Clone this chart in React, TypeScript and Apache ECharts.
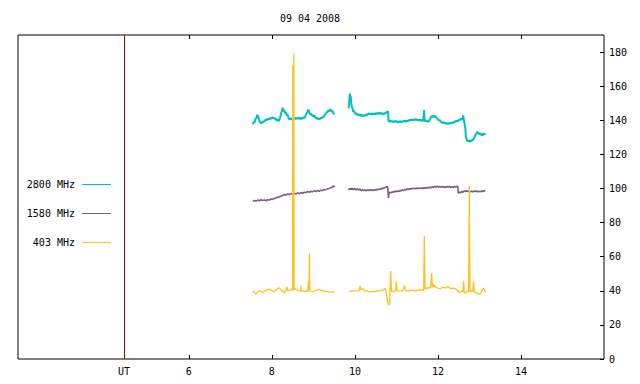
import React, { useEffect, useRef } from "react";
import * as echarts from "echarts";

const TITLE = "09 04 2008";
const UT_MARK = 4.436;
const X_MIN = 1.885;
const X_MAX = 16.0;
const Y_MIN = 0;
const Y_MAX = 190;
const X_TICKS = [6, 8, 10, 12, 14];
const X_LABELS = [UT_MARK, 6, 8, 10, 12, 14];
const Y_TICKS = [0, 20, 40, 60, 80, 100, 120, 140, 160, 180];
const LEGEND_NAMES = ["2800 MHz", "1580 MHz", "403 MHz"];
const COLORS = ["#00c0c0", "#7b5e80", "#ffc020"];

// 2800 MHz
const cyanA: number[][] = [
  [7.54, 137.8], [7.56, 139.0], [7.58, 138.6], [7.6, 140.5], [7.62, 141.2], [7.64, 142.6], [7.66, 143.0],
  [7.68, 141.2], [7.7, 139.6], [7.72, 138.8], [7.74, 138.2], [7.76, 138.9], [7.78, 138.5], [7.8, 139.6],
  [7.82, 139.2], [7.84, 140.4], [7.86, 139.8], [7.88, 140.9], [7.9, 140.2], [7.92, 141.0], [7.94, 140.3],
  [7.96, 141.6], [7.98, 140.7], [8.0, 141.9], [8.02, 141.0], [8.04, 141.8], [8.06, 140.6], [8.08, 141.4],
  [8.1, 140.4], [8.12, 139.9], [8.14, 140.6], [8.16, 139.4], [8.18, 140.2], [8.2, 141.8], [8.22, 143.5],
  [8.24, 145.4], [8.26, 147.3], [8.28, 145.2], [8.3, 146.0], [8.32, 144.0], [8.34, 144.6], [8.36, 142.8],
  [8.38, 143.2], [8.4, 141.6], [8.42, 140.4], [8.44, 141.2], [8.46, 140.2], [8.48, 141.3], [8.5, 140.5],
  [8.52, 141.6], [8.54, 140.8], [8.56, 141.7], [8.58, 140.6], [8.6, 141.5], [8.62, 140.9], [8.64, 141.8],
  [8.66, 140.7], [8.68, 141.4], [8.7, 140.6], [8.72, 141.5], [8.74, 140.8], [8.76, 142.0], [8.78, 141.2],
  [8.8, 142.2], [8.82, 143.0], [8.84, 144.2], [8.86, 145.0], [8.88, 146.2], [8.9, 144.8], [8.92, 143.4],
  [8.94, 144.0], [8.96, 142.6], [8.98, 143.2], [9.0, 142.2], [9.02, 142.8], [9.04, 141.8], [9.06, 141.0],
  [9.08, 141.6], [9.1, 140.6], [9.12, 141.2], [9.14, 140.5], [9.16, 140.9], [9.18, 141.5], [9.2, 141.0],
  [9.22, 142.0], [9.24, 141.6], [9.26, 142.8], [9.28, 143.2], [9.3, 144.0], [9.32, 144.6], [9.34, 145.0],
  [9.36, 145.8], [9.38, 145.2], [9.4, 146.4], [9.42, 146.0], [9.44, 145.0], [9.46, 145.6], [9.48, 144.2],
  [9.5, 143.4],
];
const cyanB: number[][] = [
  [9.85, 147.0], [9.86, 150.0], [9.87, 153.5], [9.88, 155.6], [9.89, 153.0], [9.9, 154.0], [9.91, 150.5],
  [9.92, 148.4], [9.94, 147.0], [9.96, 145.0], [9.98, 145.6], [10.0, 143.8], [10.02, 144.4], [10.04, 143.2],
  [10.06, 143.9], [10.08, 142.8], [10.1, 143.6], [10.12, 142.6], [10.14, 143.4], [10.16, 142.4], [10.18, 143.2],
  [10.2, 142.2], [10.22, 143.0], [10.24, 142.4], [10.26, 143.4], [10.28, 142.8], [10.3, 143.8], [10.32, 143.2],
  [10.34, 144.2], [10.36, 143.4], [10.38, 144.0], [10.4, 143.2], [10.42, 144.2], [10.44, 143.4], [10.46, 144.0],
  [10.48, 143.2], [10.5, 144.4], [10.52, 143.6], [10.54, 144.2], [10.56, 143.8], [10.58, 144.6], [10.6, 143.6],
  [10.62, 144.4], [10.64, 143.8], [10.66, 144.2], [10.68, 143.4], [10.7, 144.0], [10.72, 143.8], [10.74, 144.6],
  [10.76, 144.4], [10.78, 145.2], [10.8, 144.8], [10.81, 139.6], [10.83, 139.0], [10.85, 140.0], [10.87, 139.2],
  [10.89, 139.8], [10.91, 138.8], [10.93, 139.6], [10.95, 138.8], [10.97, 139.8], [10.99, 139.0], [11.01, 139.6],
  [11.03, 138.6], [11.05, 139.4], [11.07, 138.8], [11.09, 139.6], [11.11, 138.8], [11.13, 139.4], [11.15, 139.0],
  [11.17, 139.8], [11.19, 139.2], [11.21, 140.0], [11.23, 139.0], [11.25, 139.8], [11.27, 139.2], [11.29, 140.2],
  [11.31, 139.6], [11.33, 140.4], [11.35, 139.8], [11.37, 140.6], [11.39, 139.8], [11.41, 140.6], [11.43, 140.0],
  [11.45, 140.8], [11.47, 140.2], [11.49, 140.6], [11.51, 139.8], [11.53, 140.4], [11.55, 139.8], [11.57, 140.4],
  [11.59, 139.8], [11.61, 140.2], [11.63, 139.6], [11.65, 140.0], [11.665, 146.0], [11.68, 139.8], [11.7, 139.4],
  [11.72, 140.0], [11.74, 139.2], [11.76, 139.6], [11.78, 139.0], [11.8, 140.4], [11.82, 141.2], [11.84, 142.0],
  [11.86, 142.6], [11.88, 141.8], [11.9, 142.8], [11.92, 142.0], [11.94, 142.6], [11.96, 141.6], [11.98, 141.0],
  [12.0, 140.6], [12.02, 139.8], [12.04, 140.4], [12.06, 139.4], [12.08, 139.0], [12.1, 138.4], [12.12, 139.0],
  [12.14, 138.2], [12.16, 138.8], [12.18, 138.0], [12.2, 138.6], [12.22, 137.8], [12.24, 138.4], [12.26, 137.8],
  [12.28, 138.6], [12.3, 138.0], [12.32, 138.8], [12.34, 138.2], [12.36, 139.0], [12.38, 138.4], [12.4, 139.4],
  [12.42, 139.0], [12.44, 139.8], [12.46, 139.2], [12.48, 140.0], [12.5, 139.6], [12.52, 140.6], [12.54, 140.2],
  [12.56, 141.0], [12.58, 140.4], [12.6, 141.6], [12.61, 142.8], [12.62, 140.6], [12.64, 138.0], [12.66, 135.5],
  [12.67, 131.5], [12.68, 129.8], [12.7, 128.4], [12.72, 127.6], [12.74, 128.2], [12.76, 127.4], [12.78, 128.0],
  [12.8, 127.6], [12.82, 128.6], [12.84, 128.2], [12.86, 129.4], [12.88, 130.2], [12.9, 131.0], [12.92, 132.0],
  [12.94, 132.8], [12.96, 133.0], [12.98, 131.8], [13.0, 132.6], [13.02, 131.4], [13.04, 132.2], [13.06, 131.0],
  [13.08, 132.4], [13.1, 131.4], [13.12, 132.2], [13.14, 131.6],
];

// 1580 MHz
const purpleA: number[][] = [
  [7.54, 92.4], [7.58, 93.0], [7.62, 92.6], [7.66, 93.2], [7.7, 92.8], [7.74, 93.4], [7.78, 92.9], [7.82, 93.3],
  [7.86, 92.8], [7.9, 93.4], [7.94, 93.2], [7.98, 93.8], [8.02, 93.6], [8.06, 94.2], [8.1, 94.4], [8.14, 94.9],
  [8.18, 95.0], [8.22, 95.6], [8.26, 95.8], [8.3, 96.4], [8.34, 96.2], [8.38, 96.8], [8.42, 96.4], [8.46, 97.0],
  [8.5, 96.6], [8.54, 97.2], [8.58, 96.8], [8.62, 97.4], [8.66, 97.0], [8.7, 97.6], [8.74, 97.2], [8.78, 97.8],
  [8.82, 97.6], [8.86, 98.2], [8.9, 97.8], [8.94, 98.4], [8.98, 98.0], [9.02, 98.6], [9.06, 98.2], [9.1, 98.8],
  [9.14, 98.4], [9.18, 99.0], [9.22, 98.8], [9.26, 99.4], [9.3, 99.2], [9.34, 99.8], [9.38, 100.0], [9.42, 100.4],
  [9.46, 100.8], [9.48, 101.4], [9.5, 101.0], [9.507, 101.8],
];
const purpleB: number[][] = [
  [9.85, 99.0], [9.87, 100.0], [9.89, 99.4], [9.91, 100.2], [9.93, 99.2], [9.95, 100.0], [9.97, 99.4], [10.0, 100.0],
  [10.03, 99.2], [10.06, 99.8], [10.09, 99.0], [10.12, 99.6], [10.15, 98.8], [10.18, 99.4], [10.21, 98.8], [10.24, 99.2],
  [10.27, 98.6], [10.3, 99.2], [10.33, 98.8], [10.36, 99.4], [10.39, 98.8], [10.42, 99.4], [10.45, 98.8], [10.48, 99.4],
  [10.51, 99.0], [10.54, 99.6], [10.57, 99.2], [10.6, 99.8], [10.63, 99.6], [10.66, 100.2], [10.69, 100.0], [10.72, 100.6],
  [10.75, 100.6], [10.77, 101.2], [10.79, 100.8], [10.8, 97.5], [10.81, 94.5], [10.82, 97.2], [10.84, 97.8], [10.87, 97.4],
  [10.9, 98.0], [10.93, 97.8], [10.96, 98.4], [10.99, 98.0], [11.02, 98.6], [11.05, 98.2], [11.08, 98.8], [11.11, 98.6],
  [11.14, 99.2], [11.17, 98.8], [11.2, 99.4], [11.23, 99.2], [11.26, 99.8], [11.29, 99.4], [11.32, 99.9], [11.35, 99.6],
  [11.38, 100.2], [11.41, 99.8], [11.44, 100.2], [11.47, 99.8], [11.5, 100.4], [11.53, 99.9], [11.56, 100.3], [11.59, 99.9],
  [11.62, 100.4], [11.65, 100.0], [11.68, 100.4], [11.71, 100.0], [11.74, 100.6], [11.77, 100.2], [11.8, 100.8], [11.83, 100.4],
  [11.86, 101.0], [11.89, 100.6], [11.92, 101.2], [11.95, 100.8], [11.98, 101.4], [12.01, 100.8], [12.04, 101.2], [12.07, 100.8],
  [12.1, 101.2], [12.13, 100.6], [12.16, 101.0], [12.19, 100.6], [12.22, 101.2], [12.25, 100.8], [12.28, 101.2], [12.31, 100.6],
  [12.34, 101.0], [12.37, 100.6], [12.4, 101.2], [12.43, 100.8], [12.46, 101.4], [12.48, 101.0], [12.49, 97.2], [12.51, 97.8],
  [12.54, 97.4], [12.57, 98.2], [12.6, 97.8], [12.63, 98.6], [12.66, 98.2], [12.69, 98.8], [12.72, 98.2], [12.75, 98.6],
  [12.78, 98.0], [12.81, 98.4], [12.84, 98.0], [12.87, 98.6], [12.9, 98.2], [12.93, 98.6], [12.96, 98.0], [12.99, 98.4],
  [13.02, 98.0], [13.05, 98.6], [13.08, 98.2], [13.11, 98.8], [13.14, 98.4],
];

// 403 MHz
const orangeA: number[][] = [
  [7.54, 40.0], [7.58, 39.0], [7.62, 38.0], [7.66, 39.4], [7.7, 40.0], [7.74, 39.6], [7.78, 39.0], [7.82, 39.8],
  [7.86, 40.0], [7.9, 40.8], [7.94, 41.0], [7.98, 40.4], [8.02, 40.0], [8.06, 39.4], [8.1, 40.4], [8.14, 41.2],
  [8.17, 41.8], [8.2, 41.0], [8.25, 39.8], [8.3, 39.0], [8.34, 40.0], [8.36, 42.5], [8.375, 40.4], [8.41, 40.0],
  [8.44, 40.6], [8.46, 40.4], [8.49, 41.2], [8.5, 40.2], [8.505, 172.4], [8.51, 40.6], [8.525, 40.4], [8.53, 179.3],
  [8.535, 40.6], [8.55, 41.0], [8.57, 41.2], [8.6, 40.6], [8.65, 40.0], [8.695, 39.8], [8.7, 43.0], [8.705, 40.0],
  [8.745, 40.0], [8.785, 39.6], [8.825, 39.8], [8.865, 39.6], [8.88, 45.3], [8.897, 40.0], [8.905, 62.1], [8.913, 40.0],
  [8.945, 39.8], [8.985, 39.6], [9.025, 39.8], [9.065, 40.2], [9.105, 40.6], [9.145, 40.8], [9.185, 40.4], [9.225, 40.0],
  [9.265, 39.6], [9.306, 39.6], [9.345, 39.4], [9.386, 39.4], [9.45, 39.2], [9.507, 39.2],
];
const orangeB: number[][] = [
  [9.851, 39.6], [9.907, 39.8], [9.948, 39.8], [9.988, 40.0], [10.03, 40.0], [10.068, 40.0], [10.108, 40.2], [10.124, 42.9],
  [10.14, 40.4], [10.172, 41.0], [10.204, 41.4], [10.22, 40.2], [10.268, 40.0], [10.31, 39.6], [10.349, 39.4], [10.43, 39.4],
  [10.51, 39.8], [10.59, 40.0], [10.654, 40.4], [10.686, 40.6], [10.718, 41.4], [10.75, 40.0], [10.774, 36.0], [10.79, 33.5],
  [10.814, 31.6], [10.838, 32.0], [10.846, 39.0], [10.862, 51.6], [10.878, 40.0], [10.894, 39.6], [10.95, 39.8], [10.983, 40.0],
  [10.999, 45.5], [11.015, 40.0], [11.07, 40.0], [11.15, 40.0], [11.2, 43.1], [11.215, 40.2], [11.27, 40.0], [11.31, 40.0],
  [11.35, 40.2], [11.39, 40.4], [11.43, 40.0], [11.47, 40.0], [11.51, 40.4], [11.55, 40.6], [11.59, 40.4], [11.63, 40.6],
  [11.657, 40.4], [11.673, 72.2], [11.689, 41.0], [11.71, 41.4], [11.737, 42.0], [11.76, 41.2], [11.79, 42.2], [11.825, 41.6],
  [11.849, 50.4], [11.865, 42.4], [11.873, 44.9], [11.89, 42.0], [11.913, 43.4], [11.953, 42.0], [11.993, 41.6], [12.033, 41.4],
  [12.074, 41.4], [12.114, 42.0], [12.154, 42.0], [12.194, 41.6], [12.234, 42.6], [12.274, 41.8], [12.314, 41.4], [12.354, 41.6],
  [12.394, 41.4], [12.434, 41.0], [12.475, 40.0], [12.515, 39.0], [12.555, 39.4], [12.58, 40.0], [12.603, 39.4], [12.62, 45.9],
  [12.635, 39.2], [12.66, 38.6], [12.69, 39.4], [12.715, 39.8], [12.74, 39.4], [12.756, 101.6], [12.772, 39.6], [12.796, 39.8],
  [12.836, 39.4], [12.86, 45.5], [12.876, 39.6], [12.9, 39.0], [12.932, 38.6], [12.956, 38.6], [12.996, 38.0], [13.03, 38.6],
  [13.06, 40.0], [13.085, 41.0], [13.1, 41.4], [13.125, 40.2], [13.14, 39.0],
];

const FONT = "DejaVu Sans Mono";

export default function App() {
  const ref = useRef<HTMLDivElement>(null);
  useEffect(() => {
    if (!ref.current) return;
    const chart = echarts.init(ref.current, undefined, { renderer: "svg" });
    const lineSeries = (data: number[][], color: string, width: number, extra: any = {}) => ({
      type: "line",
      data,
      showSymbol: false,
      symbol: "none",
      lineStyle: { color, width },
      itemStyle: { color },
      silent: true,
      ...extra,
    });
    const legendY = [184, 213, 242];
    const graphics: any[] = [
      {
        type: "text",
        x: 310,
        y: 18,
        style: { text: TITLE, fontFamily: FONT, fontSize: 10, fill: "#000", align: "center", verticalAlign: "middle" },
      },
    ];
    LEGEND_NAMES.forEach((name, i) => {
      graphics.push({
        type: "text",
        x: 75,
        y: legendY[i],
        style: { text: name, fontFamily: FONT, fontSize: 10, fill: "#000", align: "right", verticalAlign: "middle" },
      });
      graphics.push({
        type: "line",
        shape: { x1: 82, y1: legendY[i] + 0.5, x2: 111, y2: legendY[i] + 0.5 },
        style: { stroke: COLORS[i], lineWidth: 1 },
      });
    });
    chart.setOption({
      animation: false,
      backgroundColor: "#fff",
      grid: { left: 18, right: 36, top: 35, bottom: 25, show: true, borderColor: "#000", borderWidth: 1, backgroundColor: "transparent" },
      xAxis: [
        {
          type: "value",
          min: X_MIN,
          max: X_MAX,
          position: "bottom",
          axisLine: { show: false },
          splitLine: { show: false },
          axisTick: { show: true, inside: true, length: 4, lineStyle: { color: "#000" }, customValues: X_TICKS },
          axisLabel: {
            show: true,
            customValues: X_LABELS,
            margin: 7,
            fontFamily: FONT,
            fontSize: 10,
            color: "#000",
            formatter: (v: number) => (Math.abs(v - UT_MARK) < 0.01 ? "UT" : String(v)),
          },
        },
        {
          type: "value",
          min: X_MIN,
          max: X_MAX,
          position: "top",
          axisLine: { show: false },
          splitLine: { show: false },
          axisTick: { show: true, inside: true, length: 4, lineStyle: { color: "#000" }, customValues: X_TICKS },
          axisLabel: { show: false },
        },
      ],
      yAxis: {
        type: "value",
        min: Y_MIN,
        max: Y_MAX,
        position: "right",
        axisLine: { show: false },
        splitLine: { show: false },
        axisTick: { show: true, inside: true, length: 4, lineStyle: { color: "#000" }, customValues: Y_TICKS },
        axisLabel: { customValues: Y_TICKS, margin: 5, fontFamily: FONT, fontSize: 10, color: "#000" },
      },
      series: [
        lineSeries(cyanA, COLORS[0], 2, {
          markLine: {
            silent: true,
            symbol: ["none", "none"],
            label: { show: false },
            lineStyle: { color: "#a00000", width: 1, type: "solid" },
            data: [{ xAxis: UT_MARK }],
          },
        }),
        lineSeries(cyanB, COLORS[0], 2),
        lineSeries(purpleA, COLORS[1], 1.6),
        lineSeries(purpleB, COLORS[1], 1.6),
        lineSeries(orangeA, COLORS[2], 1.3),
        lineSeries(orangeB, COLORS[2], 1.3),
      ],
      graphic: graphics,
    });
    return () => chart.dispose();
  }, []);
  return <div ref={ref} style={{ position: "fixed", left: 0, top: 0, width: 640, height: 384 }} />;
}
